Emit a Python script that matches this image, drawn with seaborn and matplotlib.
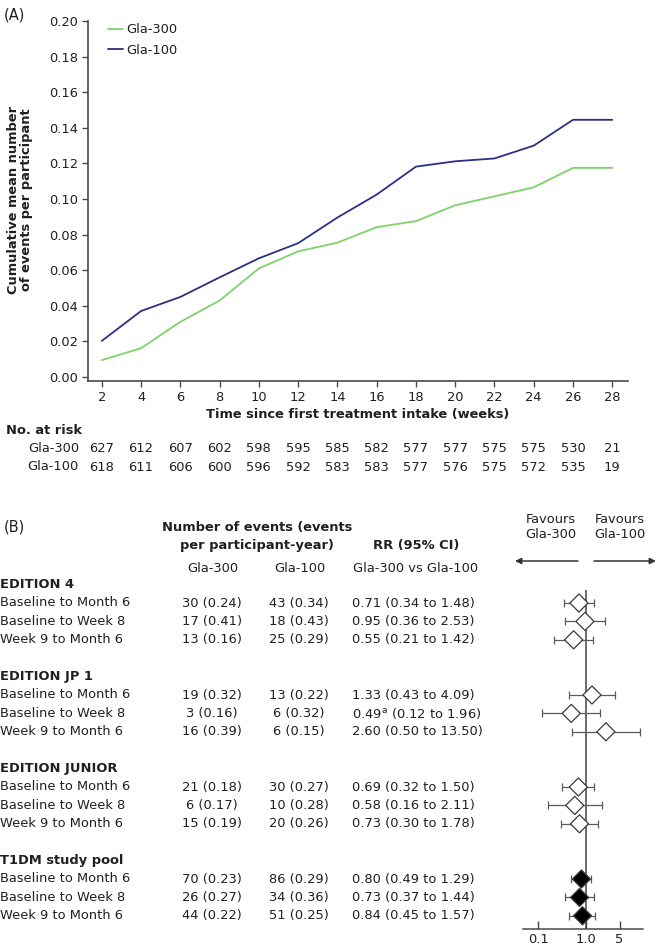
import numpy as np
import pandas as pd
import matplotlib
matplotlib.use('Agg')
import matplotlib.pyplot as plt
import matplotlib.transforms as mtransforms
from matplotlib.ticker import NullLocator, FixedLocator, FixedFormatter
import seaborn as sns

# ---- Panel A: cumulative mean number of events
weeks = [2, 4, 6, 8, 10, 12, 14, 16, 18, 20, 22, 24, 26, 28]
gla300_cum = [0.0095, 0.0162, 0.031, 0.043, 0.061, 0.0706, 0.0755, 0.0842, 0.0876, 0.0965,
              0.1015, 0.1066, 0.1175, 0.1175]
gla100_cum = [0.0203, 0.0371, 0.045, 0.056, 0.0667, 0.0752, 0.0896, 0.1025, 0.1182, 0.1212,
              0.1228, 0.1300, 0.1445, 0.1445]
risk_gla300 = [627, 612, 607, 602, 598, 595, 585, 582, 577, 577, 575, 575, 530, 21]
risk_gla100 = [618, 611, 606, 600, 596, 592, 583, 583, 577, 576, 575, 572, 535, 19]
arms = ['Gla-300', 'Gla-100']

# ---- Panel B: forest plot
studies = ['EDITION 4', 'EDITION JP 1', 'EDITION JUNIOR', 'T1DM study pool']
periods = ['Baseline to Month 6', 'Baseline to Week 8', 'Week 9 to Month 6']
gla300_events = [30, 17, 13, 19, 3, 16, 21, 6, 15, 70, 26, 44]
gla300_rate = [0.24, 0.41, 0.16, 0.32, 0.16, 0.39, 0.18, 0.17, 0.19, 0.23, 0.27, 0.22]
gla100_events = [43, 18, 25, 13, 6, 6, 30, 10, 20, 86, 34, 51]
gla100_rate = [0.34, 0.43, 0.29, 0.22, 0.32, 0.15, 0.27, 0.28, 0.26, 0.29, 0.36, 0.25]
rr = [0.71, 0.95, 0.55, 1.33, 0.49, 2.60, 0.69, 0.58, 0.73, 0.80, 0.73, 0.84]
rr_lo = [0.34, 0.36, 0.21, 0.43, 0.12, 0.50, 0.32, 0.16, 0.30, 0.49, 0.37, 0.45]
rr_hi = [1.48, 2.53, 1.42, 4.09, 1.96, 13.50, 1.50, 2.11, 1.78, 1.29, 1.44, 1.57]
rr_note = ['', '', '', '', 'a', '', '', '', '', '', '', '']
forest_ticks = [0.1, 1.0, 5]
forest_ticklabels = ['0.1', '1.0', '5']

GREEN = '#7dd36a'
NAVY = '#2c2f85'
TXT = '#231f20'
AXC = '#4a4a4a'
FS = 9.4

sns.set_theme(style='ticks')
plt.rcParams['font.family'] = ['DejaVu Sans']
plt.rcParams['text.color'] = TXT
plt.rcParams['axes.labelcolor'] = TXT
plt.rcParams['xtick.color'] = AXC
plt.rcParams['ytick.color'] = AXC
plt.rcParams['xtick.labelcolor'] = TXT
plt.rcParams['ytick.labelcolor'] = TXT

W, H = 656, 952
fig = plt.figure(figsize=(W / 100, H / 100), dpi=100)

# background axes in pixel coordinates for the table text
tab = fig.add_axes([0, 0, 1, 1], zorder=-1)
tab.set_xlim(0, W)
tab.set_ylim(H, 0)
tab.axis('off')

# ================= Panel A =================
ax = fig.add_axes([88 / W, 1 - 381 / H, 540 / W, (381 - 21) / H])
df = pd.DataFrame({
    'week': weeks * 2,
    'events': gla300_cum + gla100_cum,
    'arm': [arms[0]] * len(weeks) + [arms[1]] * len(weeks),
})
sns.lineplot(data=df, x='week', y='events', hue='arm', hue_order=arms,
             palette={'Gla-300': GREEN, 'Gla-100': NAVY}, linewidth=1.3, ax=ax)
ax.set_xlim(1.3, 28.8)
ax.set_ylim(-0.0022, 0.2)
ax.set_xticks(weeks)
ax.set_yticks(np.arange(0, 0.2001, 0.02))
ax.set_yticklabels([f'{v:.2f}' for v in np.arange(0, 0.2001, 0.02)])
for s in ['top', 'right']:
    ax.spines[s].set_visible(False)
for s in ['left', 'bottom']:
    ax.spines[s].set_color(AXC)
    ax.spines[s].set_linewidth(1.2)
ax.tick_params(direction='out', length=4, width=1.0, labelsize=FS, pad=3)
ax.set_xlabel('Time since first treatment intake (weeks)', fontsize=FS,
              fontweight='bold', labelpad=3)
ax.set_ylabel('')
fig.text(20 / W, 1 - 200 / H, 'Cumulative mean number\nof events per participant',
         rotation=90, ha='center', va='center', fontsize=FS, fontweight='bold',
         multialignment='center', linespacing=1.05)
leg = ax.legend(loc='upper left', bbox_to_anchor=(0.028, 1.008), frameon=False,
                handlelength=1.1, handletextpad=0.3, labelspacing=0.55,
                fontsize=FS, borderaxespad=0, title=None)

tab.text(4, 15, '(A)', fontsize=10.5, va='center', ha='left')

# number at risk table
tab.text(6, 431, 'No. at risk', fontsize=FS, fontweight='bold', va='center', ha='left')
trans = mtransforms.blended_transform_factory(ax.transData, fig.transFigure)
for label, counts, ypx in [('Gla-300', risk_gla300, 449), ('Gla-100', risk_gla100, 467)]:
    tab.text(79, ypx, label, fontsize=FS, va='center', ha='right')
    for w, n in zip(weeks, counts):
        ax.text(w, 1 - ypx / H, str(n), transform=trans, fontsize=FS,
                ha='center', va='center', clip_on=False)

# ================= Panel B =================
tab.text(4, 527, '(B)', fontsize=10.5, va='center', ha='left')
tab.text(257, 527, 'Number of events (events', fontsize=FS, fontweight='bold', ha='center', va='center')
tab.text(257, 545, 'per participant-year)', fontsize=FS, fontweight='bold', ha='center', va='center')
tab.text(416, 545, 'RR (95% CI)', fontsize=FS, fontweight='bold', ha='center', va='center')
tab.text(213, 568, 'Gla-300', fontsize=FS, ha='center', va='center')
tab.text(300, 568, 'Gla-100', fontsize=FS, ha='center', va='center')
tab.text(416, 568, 'Gla-300 vs Gla-100', fontsize=FS, ha='center', va='center')
tab.text(551, 527, 'Favours\nGla-300', fontsize=FS, ha='center', va='center', linespacing=1.25)
tab.text(620, 527, 'Favours\nGla-100', fontsize=FS, ha='center', va='center', linespacing=1.25)
tab.annotate('', xy=(515, 561), xytext=(578, 561),
             arrowprops=dict(arrowstyle='-|>', color='#333333', lw=1.1,
                             mutation_scale=9, shrinkA=0, shrinkB=0))
tab.annotate('', xy=(656, 561), xytext=(594, 561),
             arrowprops=dict(arrowstyle='-|>', color='#333333', lw=1.1,
                             mutation_scale=9, shrinkA=0, shrinkB=0))

Y0, PITCH = 584.6, 18.4
rows = []
for g, study in enumerate(studies):
    tab.text(0, Y0 + PITCH * 5 * g, study, fontsize=FS, fontweight='bold', ha='left', va='center')
    for j, period in enumerate(periods):
        rows.append(5 * g + 1 + j)

for i, k in enumerate(rows):
    ypx = Y0 + PITCH * k
    tab.text(0, ypx, periods[i % 3], fontsize=FS, ha='left', va='center')
    tab.text(212, ypx, f'{gla300_events[i]} ({gla300_rate[i]:.2f})', fontsize=FS, ha='center', va='center')
    tab.text(299, ypx, f'{gla100_events[i]} ({gla100_rate[i]:.2f})', fontsize=FS, ha='center', va='center')
    note = f'$^{{\\mathregular{{{rr_note[i]}}}}}$' if rr_note[i] else ''
    tab.text(352, ypx, f'{rr[i]:.2f}{note} ({rr_lo[i]:.2f} to {rr_hi[i]:.2f})',
             fontsize=FS, ha='left', va='center')

# forest axes
fax = fig.add_axes([523 / W, 1 - 929 / H, 120 / W, (929 - 590) / H])
forest = pd.DataFrame({'rr': rr, 'lo': rr_lo, 'hi': rr_hi, 'row': rows,
                       'pooled': [False] * 9 + [True] * 3})
fax.set_xscale('log')
fax.errorbar(forest['rr'], forest['row'],
             xerr=[forest['rr'] - forest['lo'], forest['hi'] - forest['rr']],
             fmt='none', ecolor='#5a5a5a', elinewidth=0.9, capsize=2.6, capthick=0.9, zorder=2)
fax.axvline(1.0, color='#444444', lw=1.1, zorder=1)
sns.scatterplot(data=forest, x='rr', y='row', hue='pooled',
                palette={False: 'white', True: 'black'}, marker='D', s=85,
                edgecolor='#3a3a3a', linewidth=0.9, legend=False, zorder=3, ax=fax)
fax.set_xlim(0.048, 15.5)
fax.set_ylim((929 - Y0) / PITCH, (590 - Y0) / PITCH)
fax.xaxis.set_major_locator(FixedLocator(forest_ticks))
fax.xaxis.set_major_formatter(FixedFormatter(forest_ticklabels))
fax.xaxis.set_minor_locator(NullLocator())
fax.set_yticks([])
fax.set_xlabel('')
fax.set_ylabel('')
fax.patch.set_alpha(0)
for s in ['top', 'right', 'left']:
    fax.spines[s].set_visible(False)
fax.spines['bottom'].set_color(AXC)
fax.spines['bottom'].set_linewidth(1.1)
fax.tick_params(axis='x', direction='in', length=6, width=1.0, labelsize=FS, pad=3)

fig.savefig('out.png', dpi=100)
